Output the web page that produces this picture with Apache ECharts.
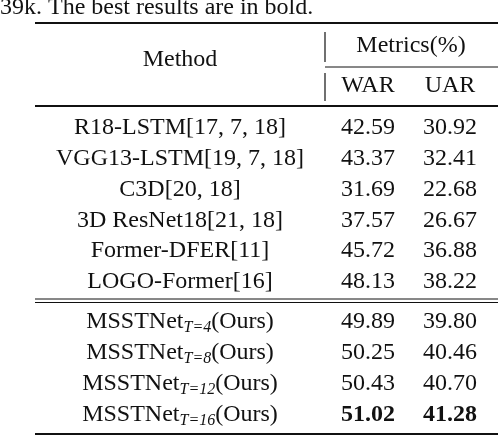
<!DOCTYPE html><html><head><meta charset="utf-8"><script src="https://cdn.jsdelivr.net/npm/echarts@6/dist/echarts.min.js"></script>
<style>html,body{margin:0;background:#fff}#c{width:498px;height:436px}</style></head><body><div id="c"></div><script>
const methods=['R18-LSTM[17, 7, 18]','VGG13-LSTM[19, 7, 18]','C3D[20, 18]','3D ResNet18[21, 18]','Former-DFER[11]','LOGO-Former[16]'];
const war=['42.59','43.37','31.69','37.57','45.72','48.13'];
const uar=['30.92','32.41','22.68','26.67','36.88','38.22'];
const oursT=['4','8','12','16'];
const oursWar=['49.89','50.25','50.43','51.02'];
const oursUar=['39.80','40.46','40.70','41.28'];
const F='"Liberation Serif","DejaVu Serif",serif';
const g=[];
function t(x,y,text,opt){g.push({type:'text',x:x,y:y,style:Object.assign({text:text,font:'24px '+F,fill:'#111',align:'center',verticalAlign:'middle'},opt||{})});}
function ln(x1,y1,x2,y2,w){g.push({type:'line',shape:{x1:x1,y1:y1,x2:x2,y2:y2},style:{stroke:'#111',lineWidth:w||1}});}
t(0,8,'39k. The best results are in bold.',{align:'left'});
ln(35,23,498,23,2);
t(180,60,'Method');
ln(325,32,325,62,1.2);ln(325,73,325,101,1.2);
t(411,46,'Metrics(%)');
ln(325,67,498,67,1);
t(368,86,'WAR');t(450,86,'UAR');
ln(35,106,498,106,2);
const y0=128,dy=30.8;
methods.forEach((m,i)=>{const y=y0+i*dy;t(180,y,m);t(368,y,war[i]);t(450,y,uar[i]);});
ln(35,299,498,299,1);ln(35,302.5,498,302.5,1);
oursT.forEach((T,i)=>{const y=322+i*31;const b=i===3;
 g.push({type:'text',x:180,y:y,style:{text:'{a|MSSTNet}{s|T=' +T+'}{a|(Ours)}',align:'center',verticalAlign:'middle',rich:{a:{font:'24px '+F,fill:'#111'},s:{font:'italic 16px '+F,fill:'#111',padding:[12,0,0,0]}}}});
 const o=b?{font:'bold 24px '+F}:{};t(368,y,oursWar[i],o);t(450,y,oursUar[i],o);});
ln(35,434,498,434,2);
const ch=echarts.init(document.getElementById('c'));
ch.setOption({graphic:g});
</script></body></html>
